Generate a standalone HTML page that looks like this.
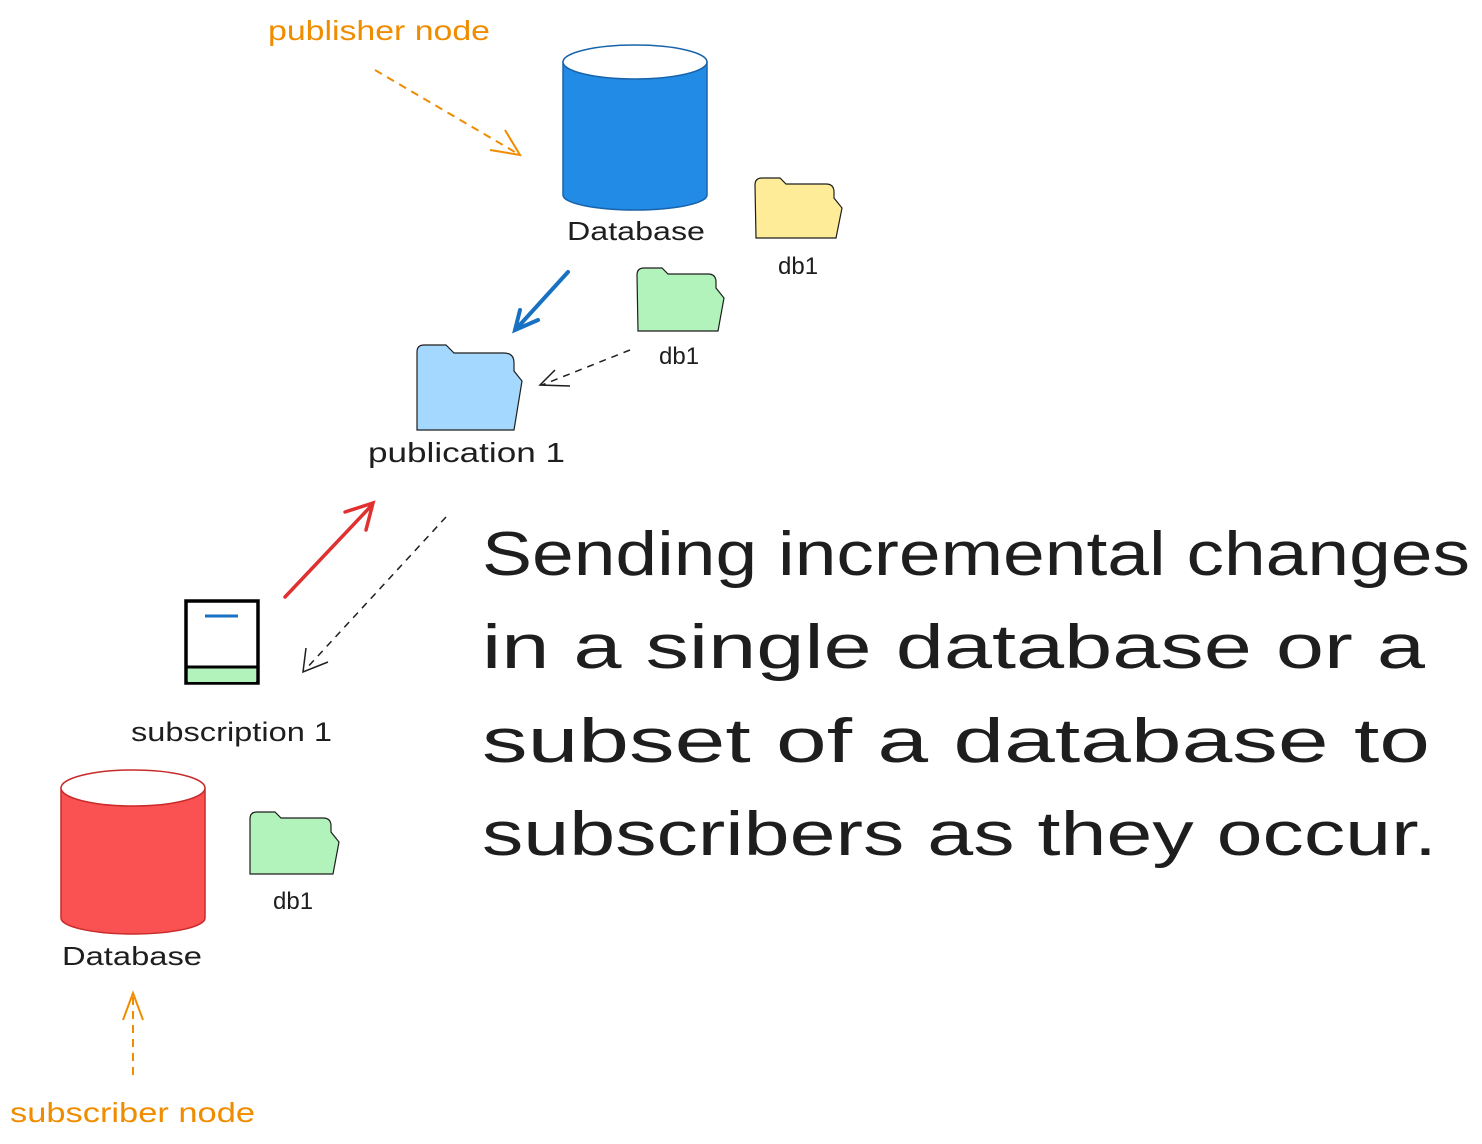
<!DOCTYPE html>
<html><head><meta charset="utf-8"><style>
html,body{margin:0;padding:0;background:#fff;}
svg{display:block;}
text{font-family:"Liberation Sans",sans-serif;}
</style></head><body>
<svg width="1482" height="1144" viewBox="0 0 1482 1144" xmlns="http://www.w3.org/2000/svg">
<defs>
<marker id="ah" viewBox="0 0 10 10" refX="9" refY="5" markerWidth="8" markerHeight="8" orient="auto-start-reverse" markerUnits="userSpaceOnUse"></marker>
</defs>
<!-- publisher node -->
<text x="268" y="40" font-size="28" fill="#f08c00" textLength="222" lengthAdjust="spacingAndGlyphs">publisher node</text>
<path d="M375 70 L520 155" stroke="#f08c00" stroke-width="2" stroke-dasharray="8 6" fill="none"/>
<path d="M490 150 L520 155 L505 130" stroke="#f08c00" stroke-width="2" fill="none"/>

<!-- blue database -->
<path d="M563 62 L563 195 A72 15 0 0 0 707 195 L707 62 Z" fill="#228be6" stroke="#1864ab" stroke-width="1.5"/>
<ellipse cx="635" cy="62" rx="72" ry="17" fill="#fff" stroke="#1864ab" stroke-width="1.5"/>
<text x="567" y="240" font-size="26" fill="#1e1e1e" textLength="138" lengthAdjust="spacingAndGlyphs">Database</text>

<!-- folders -->
<g id="f1"><path d="M755 185 q0-7 7-7 h18 l6 6 h40 q8 0 8 8 v6 l8 10 l-6 30 h-80 z" fill="#ffec99" stroke="#1e1e1e" stroke-width="1.2"/></g>
<text x="778" y="274" font-size="24" fill="#1e1e1e">db1</text>
<path d="M637 275 q0-7 7-7 h18 l6 6 h40 q8 0 8 8 v6 l8 10 l-6 33 h-80 z" fill="#b2f2bb" stroke="#1e1e1e" stroke-width="1.2"/>
<text x="659" y="364" font-size="24" fill="#1e1e1e">db1</text>
<path d="M417 352 q0-7 7-7 h22 l8 8 h50 q10 0 10 10 v8 l8 10 l-8 49 h-97 z" fill="#a5d8ff" stroke="#1e1e1e" stroke-width="1.2"/>
<text x="368" y="462" font-size="28" fill="#1e1e1e" textLength="197" lengthAdjust="spacingAndGlyphs">publication 1</text>
<path d="M250 819 q0-7 7-7 h18 l6 6 h42 q8 0 8 8 v6 l8 10 l-6 32 h-83 z" fill="#b2f2bb" stroke="#1e1e1e" stroke-width="1.2"/>
<text x="273" y="909" font-size="24" fill="#1e1e1e">db1</text>

<!-- blue arrow -->
<path d="M568 272 L517 328" stroke="#1971c2" stroke-width="4" fill="none" stroke-linecap="round"/>
<path d="M520 310 L515 330 L538 320" stroke="#1971c2" stroke-width="4" fill="none" stroke-linecap="round"/>
<!-- dashed black from db1 -->
<path d="M630 350 L542 385" stroke="#1e1e1e" stroke-width="1.5" stroke-dasharray="7 6" fill="none"/>
<path d="M555 370 L540 385 L570 386" stroke="#1e1e1e" stroke-width="1.5" fill="none"/>

<!-- red arrow -->
<path d="M285 597 L372 505" stroke="#e03131" stroke-width="3.5" fill="none" stroke-linecap="round"/>
<path d="M345 512 L373 503 L366 530" stroke="#e03131" stroke-width="3.5" fill="none" stroke-linecap="round"/>
<!-- dashed pub->sub -->
<path d="M446 517 L305 670" stroke="#1e1e1e" stroke-width="1.5" stroke-dasharray="7 6" fill="none"/>
<path d="M306 648 L303 672 L328 662" stroke="#1e1e1e" stroke-width="1.5" fill="none"/>

<!-- subscription icon -->
<rect x="186" y="601" width="72" height="82" fill="#fff" stroke="#000" stroke-width="3.5"/>
<rect x="188" y="668" width="68" height="14" fill="#b2f2bb"/>
<line x1="186" y1="667" x2="258" y2="667" stroke="#000" stroke-width="3"/>
<line x1="205" y1="616" x2="238" y2="616" stroke="#1971c2" stroke-width="3"/>
<text x="131" y="741" font-size="27" fill="#1e1e1e" textLength="201" lengthAdjust="spacingAndGlyphs">subscription 1</text>

<!-- red database -->
<path d="M61 788 L61 918 A72 16 0 0 0 205 918 L205 788 Z" fill="#fa5252" stroke="#c92a2a" stroke-width="1.5"/>
<ellipse cx="133" cy="788" rx="72" ry="18" fill="#fff" stroke="#c92a2a" stroke-width="1.5"/>
<text x="62" y="965" font-size="26" fill="#1e1e1e" textLength="140" lengthAdjust="spacingAndGlyphs">Database</text>

<!-- subscriber node -->
<path d="M133 1075 L133 995" stroke="#f08c00" stroke-width="2" stroke-dasharray="8 6" fill="none"/>
<path d="M123 1020 L133 993 L143 1020" stroke="#f08c00" stroke-width="2" fill="none"/>
<text x="10" y="1122" font-size="28" fill="#f08c00" textLength="245" lengthAdjust="spacingAndGlyphs">subscriber node</text>

<!-- big text -->
<g font-size="62" fill="#1e1e1e">
<text x="482" y="575" textLength="988" lengthAdjust="spacingAndGlyphs">Sending incremental changes</text>
<text x="482" y="668" textLength="943" lengthAdjust="spacingAndGlyphs">in a single database or a</text>
<text x="482" y="762" textLength="948" lengthAdjust="spacingAndGlyphs">subset of a database to</text>
<text x="482" y="855" textLength="955" lengthAdjust="spacingAndGlyphs">subscribers as they occur.</text>
</g>
</svg>
</body></html>
